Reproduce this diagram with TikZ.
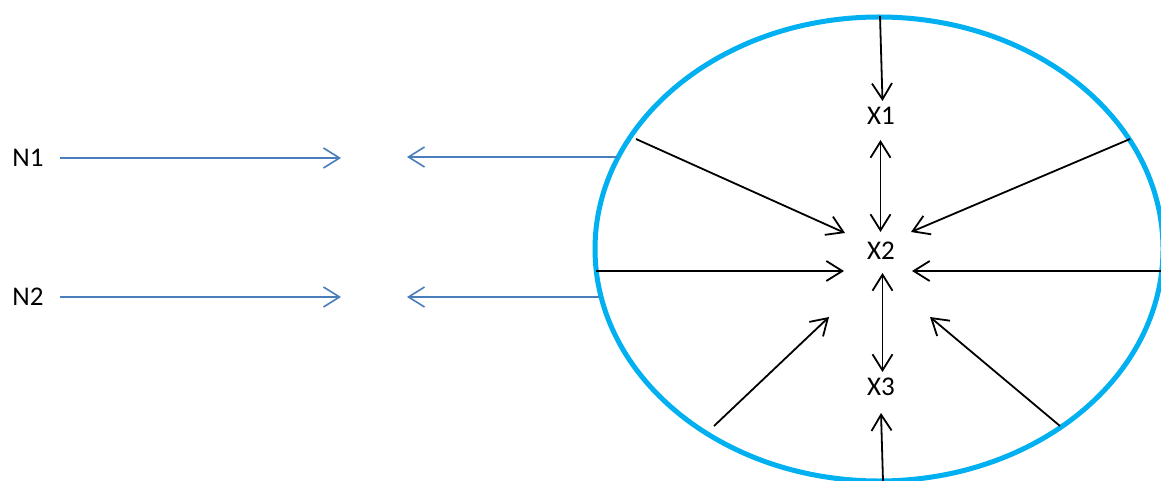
\documentclass[tikz,border=0pt]{standalone}
\usepackage{fontspec}
\setmainfont{Carlito}
\usetikzlibrary{arrows.meta}
\definecolor{ringblue}{RGB}{0,176,240}
\definecolor{flowblue}{RGB}{74,126,187}
\begin{document}
\begin{tikzpicture}[x=1pt,y=-1pt,
  lbl/.style={font=\fontsize{27}{30}\selectfont, inner sep=0pt},
  blk/.style={draw=black, line width=1.8pt, -{Straight Barb[length=16pt,width=20pt]}},
  blkboth/.style={draw=black, line width=1.8pt, {Straight Barb[length=16pt,width=20pt]}-{Straight Barb[length=16pt,width=20pt]}},
  blu/.style={draw=flowblue, line width=1.6pt, -{Straight Barb[length=16pt,width=20pt]}}]
\useasboundingbox (0,0) rectangle (1161,481);
\fill[white] (0,0) rectangle (1161,481);
% ring
\draw[ringblue, line width=5pt] (879,249) ellipse [x radius=284, y radius=232];
% labels
\node[lbl] (N1) at (28,158) {N1};
\node[lbl] (N2) at (28,297) {N2};
\node[lbl] (X1) at (881,116) {X1};
\node[lbl] (X2) at (881,251) {X2};
\node[lbl] (X3) at (881,387) {X3};
% coordinates
\coordinate (n1s) at (60,158);
\coordinate (n1t) at (341,158);
\coordinate (n2s) at (60,297);
\coordinate (n2t) at (341,297);
\coordinate (r1s) at (617,157);
\coordinate (r1t) at (407,157);
\coordinate (r2s) at (599,297);
\coordinate (r2t) at (407,297);
\coordinate (tops) at (880,16);
\coordinate (topt) at (882.5,101);
\coordinate (a12) at (880.5,140);
\coordinate (b12) at (880.5,232);
\coordinate (ulS) at (636,139);
\coordinate (ulT) at (845,233);
\coordinate (urS) at (1130,139);
\coordinate (urT) at (911,232);
\coordinate (lS) at (596,271);
\coordinate (lT) at (844,271);
\coordinate (rS) at (1162,271);
\coordinate (rT) at (912,271);
\coordinate (a23) at (882.5,273);
\coordinate (b23) at (882.5,372);
\coordinate (blS) at (714,426);
\coordinate (blT) at (829,317);
\coordinate (brS) at (1060,426);
\coordinate (brT) at (930,317);
\coordinate (botS) at (883,481);
\coordinate (botT) at (881,413);
% blue arrows
\draw[blu] (n1s) -- (n1t);
\draw[blu] (n2s) -- (n2t);
\draw[blu] (r1s) -- (r1t);
\draw[blu] (r2s) -- (r2t);
% black arrows
\draw[blk] (tops) -- (topt);
\draw[blkboth] (a12) -- (b12);
\draw[blk] (ulS) -- (ulT);
\draw[blk] (urS) -- (urT);
\draw[blk] (lS) -- (lT);
\draw[blk] (rS) -- (rT);
\draw[blkboth] (a23) -- (b23);
\draw[blk] (blS) -- (blT);
\draw[blk] (brS) -- (brT);
\draw[blk] (botS) -- (botT);
\end{tikzpicture}
\end{document}
